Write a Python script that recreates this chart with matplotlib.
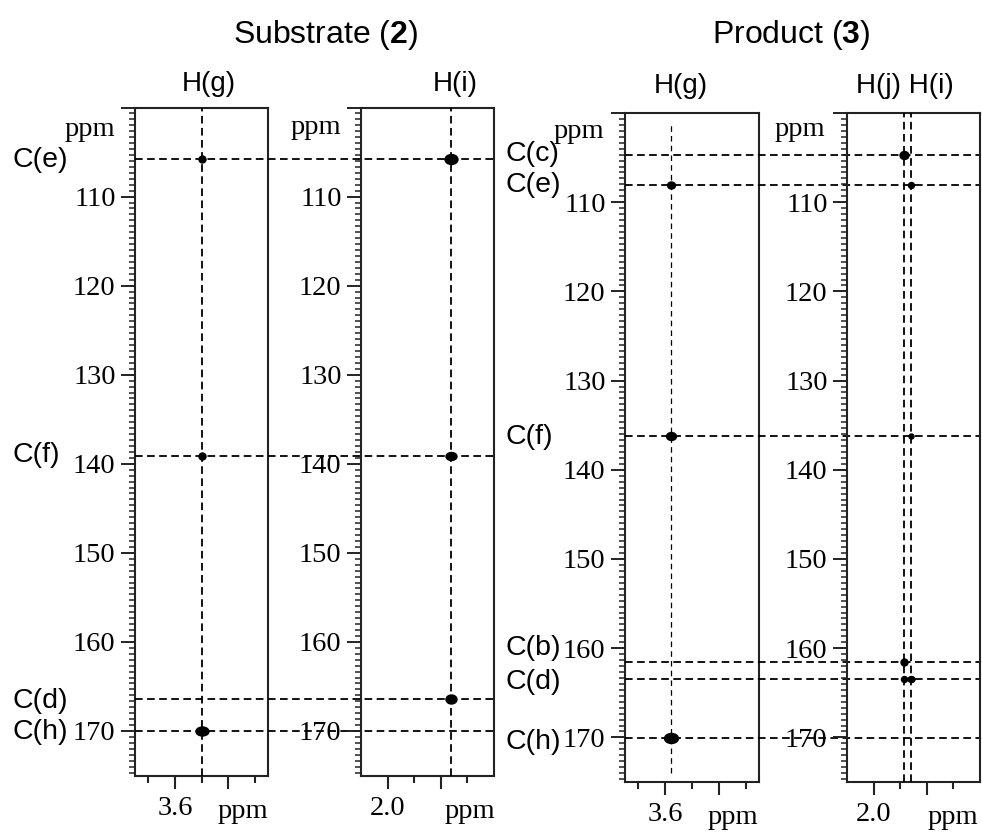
import matplotlib
matplotlib.use('Agg')
import matplotlib.pyplot as plt
from matplotlib.markers import MarkerStyle
from matplotlib.transforms import Affine2D, blended_transform_factory
from matplotlib.ticker import FixedLocator, MultipleLocator

# ---- data (ppm values) ----
sub_carbon_labels = ['C(e)', 'C(f)', 'C(d)', 'C(h)']
sub_carbon_ppm = [105.8, 139.1, 166.4, 170.0]
sub_hg_ppm = 3.50
sub_hi_ppm = 1.76
sub_hg_peaks = [105.8, 139.1, 170.0]
sub_hi_peaks = [105.8, 139.1, 166.4]

prod_carbon_labels = ['C(c)', 'C(e)', 'C(f)', 'C(b)', 'C(d)', 'C(h)']
prod_carbon_ppm = [104.7, 108.1, 136.2, 161.6, 163.4, 170.1]
prod_hg_ppm = 3.578
prod_hj_ppm = 1.886
prod_hi_ppm = 1.861
prod_hg_peaks = [108.1, 136.2, 170.1]
prod_hj_peaks = [104.7, 161.6, 163.4]
prod_hi_peaks = [108.1, 136.2, 163.4]

# ---- styling ----
W, H = 982, 832
SANS = 'Liberation Sans'
plt.rcParams['font.family'] = 'Liberation Serif'
plt.rcParams['lines.scale_dashes'] = False
plt.rcParams['mathtext.fontset'] = 'custom'
plt.rcParams['mathtext.rm'] = SANS
plt.rcParams['mathtext.bf'] = SANS + ':bold'
spine_col = '#222222'
dash = (0, (5.5, 3.2))
TICK_FS = 20.5

fig = plt.figure(figsize=(W / 100, H / 100), dpi=100)


def box(x0, y0, x1, y1):
    return [x0 / W, 1 - y1 / H, (x1 - x0) / W, (y1 - y0) / H]


def ftext(x, y, s, **kw):
    fig.text(x / W, 1 - y / H, s, **kw)


def panel(rect, xlim, xmajor, xlab, xminor):
    ax = fig.add_axes(rect)
    ax.patch.set_visible(False)
    ax.set_xlim(xlim)
    ax.set_ylim(175, 100)
    ax.xaxis.set_major_locator(FixedLocator(xmajor))
    ax.xaxis.set_minor_locator(FixedLocator(xminor))
    ax.set_xticklabels([xlab, ''])
    ax.yaxis.set_major_locator(FixedLocator([100, 110, 120, 130, 140, 150, 160, 170]))
    ax.yaxis.set_minor_locator(MultipleLocator(10 / 15))
    ax.set_yticklabels(['', '110', '120', '130', '140', '150', '160', '170'])
    ax.tick_params(axis='y', which='major', direction='out', length=10, width=1.4,
                   pad=4, labelsize=TICK_FS, color=spine_col)
    ax.tick_params(axis='y', which='minor', direction='out', length=4, width=1.1,
                   color=spine_col)
    ax.tick_params(axis='x', which='major', direction='out', length=9.5, width=1.5,
                   pad=5, labelsize=TICK_FS, color=spine_col)
    ax.tick_params(axis='x', which='minor', direction='out', length=5, width=1.5,
                   color=spine_col)
    for s in ax.spines.values():
        s.set_linewidth(1.5)
        s.set_color(spine_col)
    return ax


def dot(ax, x, y, w, h):
    m = MarkerStyle('o', transform=Affine2D().scale(w / h, 1))
    ax.plot([x], [y], marker=m, markersize=h * 0.72, color='black',
            linestyle='none', zorder=5, clip_on=False)


def hlines(ax_left, ax_right, ys):
    l = ax_left.get_position()
    r = ax_right.get_position()
    xr = (r.x1 - l.x0) / l.width
    tr = blended_transform_factory(ax_left.transAxes, ax_left.transData)
    for y in ys:
        ax_left.plot([0, xr], [y, y], transform=tr, clip_on=False,
                     color='black', lw=1.3, linestyle=dash, zorder=3)


# ---- substrate ----
ax1 = panel(box(135, 107.5, 268, 775.5), (3.75, 3.25), [3.6, 3.4], '3.6', [3.7, 3.5, 3.3])
ax2 = panel(box(361, 107.5, 494, 775.5), (2.1, 1.6), [2.0, 1.8], '2.0', [1.9, 1.7])
ax1.axvline(sub_hg_ppm, color='black', lw=1.3, linestyle=dash, zorder=3)
ax2.axvline(sub_hi_ppm, color='black', lw=1.3, linestyle=dash, zorder=3)
hlines(ax1, ax2, sub_carbon_ppm)
for y, (w, h) in zip(sub_hg_peaks, [(7, 7), (7, 7), (13, 9)]):
    dot(ax1, sub_hg_ppm, y, w, h)
for y, (w, h) in zip(sub_hi_peaks, [(13, 10), (11, 8), (11, 9)]):
    dot(ax2, sub_hi_ppm, y, w, h)

# ---- product ----
ax3 = panel(box(625, 113, 759, 782), (3.75, 3.25), [3.6, 3.4], '3.6', [3.7, 3.5, 3.3])
ax4 = panel(box(847, 113, 980, 782), (2.1, 1.6), [2.0, 1.8], '2.0', [1.9, 1.7])
ax3.axvline(prod_hg_ppm, ymax=0.985, ymin=0.013, color='black', lw=0.9,
            linestyle=(0, (4, 3)), zorder=3)
ax4.axvline(prod_hj_ppm, color='black', lw=1.3, linestyle=dash, zorder=3)
ax4.axvline(prod_hi_ppm, color='black', lw=1.3, linestyle=dash, zorder=3)
hlines(ax3, ax4, prod_carbon_ppm)
for y, (w, h) in zip(prod_hg_peaks, [(8, 7), (10, 8), (14, 10)]):
    dot(ax3, prod_hg_ppm, y, w, h)
for y, (w, h) in zip(prod_hj_peaks, [(9, 8), (7, 7), (6, 6)]):
    dot(ax4, prod_hj_ppm, y, w, h)
for y, (w, h) in zip(prod_hi_peaks, [(6, 6), (5, 5), (7, 6)]):
    dot(ax4, prod_hi_ppm, y, w, h)

# ---- labels ----
ftext(326, 35, 'Substrate ($\\mathbf{2}$)', ha='center', va='center', fontsize=23, family=SANS)
ftext(791, 35, 'Product ($\\mathbf{3}$)', ha='center', va='center', fontsize=23, family=SANS)

for x, y, s in [(209, 84, 'H(g)'), (455, 84, 'H(i)'), (681, 86, 'H(g)'), (905, 86, 'H(j) H(i)')]:
    ftext(x, y, s, ha='center', va='center', fontsize=20, family=SANS)

for s, y in zip(sub_carbon_labels, [160, 455, 701, 732]):
    ftext(12, y, s, ha='left', va='center', fontsize=20.5, family=SANS)
for s, y in zip(prod_carbon_labels, [154, 185, 437, 648, 682, 742]):
    ftext(506, y, s, ha='left', va='center', fontsize=20.5, family=SANS)

for x, y in [(90, 130), (316, 128), (579, 132), (800, 129)]:
    ftext(x, y, 'ppm', ha='center', va='center', fontsize=TICK_FS)
for x, y in [(243, 812), (470, 812), (733, 817), (953, 817)]:
    ftext(x, y, 'ppm', ha='center', va='center', fontsize=TICK_FS)

fig.savefig('out.png', dpi=100)
